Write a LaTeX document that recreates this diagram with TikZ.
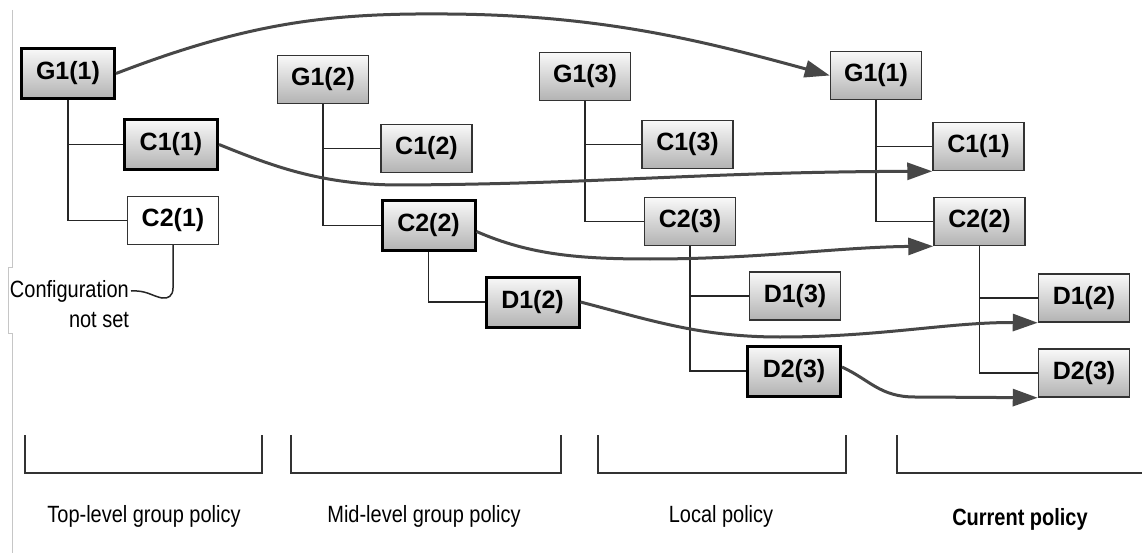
\documentclass[tikz,border=0pt]{standalone}
\usepackage{fontspec}
\setmainfont{Liberation Sans}
\newfontfamily\boxfont{Liberation Sans}
\newfontfamily\labfont[FakeStretch=0.85]{Liberation Sans}
\usetikzlibrary{arrows.meta,calc}
\tikzset{
  pbox/.style={draw=black!80, line width=1.5pt, top color=white!95!gray, bottom color=black!30,
    minimum width=91pt, minimum height=48pt, inner sep=0pt,
    font=\boxfont\bfseries\fontsize{25}{29}\selectfont},
  pboxthick/.style={pbox, draw=black, line width=3pt, minimum width=93pt, minimum height=50pt},
  pboxwhite/.style={pbox, top color=white, bottom color=white},
  treeline/.style={draw=black!85, line width=1.5pt},
  flowarrow/.style={draw=black!72, line width=3pt, -{Triangle[length=25pt,width=17pt]}},
  bracketline/.style={draw=black!80, line width=1.5pt},
  lbl/.style={font=\labfont\fontsize{23.5}{27}\selectfont, inner sep=0pt},
}
\begin{document}
\begin{tikzpicture}[x=1pt,y=-1pt]
\fill[white] (0,0) rectangle (1142,553);
\useasboundingbox (0,0) rectangle (1142,553);
% window frame remnant
\draw[gray!45, line width=1pt] (12,10) -- (12,267) -- (8,267) -- (8,333) -- (12,333) -- (12,553);

% top-level
\node[pboxthick] (g11) at (68,73.5) {G1(1)};
\node[pboxthick] (c11) at (171,144.5) {C1(1)};
\node[pboxwhite] (c21) at (173,220.5) {C2(1)};
% mid-level
\node[pbox] (g12) at (323,79.5) {G1(2)};
\node[pbox] (c12) at (426.5,148.5) {C1(2)};
\node[pboxthick] (c22) at (428.5,225.5) {C2(2)};
\node[pboxthick] (d12) at (532.5,302) {D1(2)};
% local
\node[pbox] (g13) at (585,76.5) {G1(3)};
\node[pbox] (c13) at (687.5,144.5) {C1(3)};
\node[pbox] (c23) at (690,221.5) {C2(3)};
\node[pbox] (d13) at (795,296) {D1(3)};
\node[pboxthick] (d23) at (794,371) {D2(3)};
% current
\node[pbox] (g11r) at (876,75.5) {G1(1)};
\node[pbox] (c11r) at (978.5,146.5) {C1(1)};
\node[pbox] (c22r) at (979.5,221.5) {C2(2)};
\node[pbox] (d12r) at (1084,298) {D1(2)};
\node[pbox] (d23r) at (1084,373) {D2(3)};

% trees
\draw[treeline] (g11.south) |- (c11.west);
\draw[treeline] (g11.south) |- (c21.west);
\draw[treeline] (g12.south) |- (c12.west);
\draw[treeline] (g12.south) |- (c22.west);
\draw[treeline] (c22.south) |- (d12.west);
\draw[treeline] (g13.south) |- (c13.west);
\draw[treeline] (g13.south) |- (c23.west);
\draw[treeline] (c23.south) |- (d13.west);
\draw[treeline] (c23.south) |- (d23.west);
\draw[treeline] (g11r.south) |- (c11r.west);
\draw[treeline] (g11r.south) |- (c22r.west);
\draw[treeline] (c22r.south) |- (d12r.west);
\draw[treeline] (c22r.south) |- (d23r.west);

% callout
\node[lbl, anchor=east] (cfg) at (129,291) {Configuration};
\node[lbl] (ns) at (99,320) {not set};
\coordinate (cb) at (173,288);
\draw[treeline] (c21.south) -- (cb) .. controls (173,296) and (168,299) .. (162,298)
  .. controls (152,296) and (146,290) .. ([xshift=2pt]cfg.east);

% arrows
\draw[flowarrow] (g11.east) .. controls (250,22) and (330,13) .. (447,14)
  .. controls (600,15) and (700,40) .. (g11r.west);
\draw[flowarrow] (c11.east) .. controls (270,165) and (320,185) .. (400,185)
  .. controls (600,184) and (700,172) .. (c11r.south west);
\draw[flowarrow] ($(c22.east)+(0,6)$) .. controls (530,255) and (580,259) .. (650,259)
  .. controls (760,259) and (840,247) .. (c22r.south west);
\draw[flowarrow] (d12.east) .. controls (650,320) and (700,337) .. (780,337)
  .. controls (880,337) and (950,322) .. (d12r.south west);
\draw[flowarrow] ($(d23.east)+(0,-4)$) .. controls (870,380) and (880,397) .. (915,397)
  -- (d23r.south west);

% brackets
\draw[bracketline] (25,435) -- (25,473) -- (262,473) -- (262,435);
\draw[bracketline] (291,435) -- (291,473) -- (561,473) -- (561,435);
\draw[bracketline] (598,435) -- (598,473) -- (846,473) -- (846,435);
\draw[bracketline] (897,435) -- (897,473) -- (1142,473);

% labels
\node[lbl] (l1) at (144,516) {Top-level group policy};
\node[lbl] (l2) at (424,516) {Mid-level group policy};
\node[lbl] (l3) at (721,516) {Local policy};
\node[lbl, font=\labfont\bfseries\fontsize{23.5}{27}\selectfont] (l4) at (1020,519) {Current policy};
\end{tikzpicture}
\end{document}
